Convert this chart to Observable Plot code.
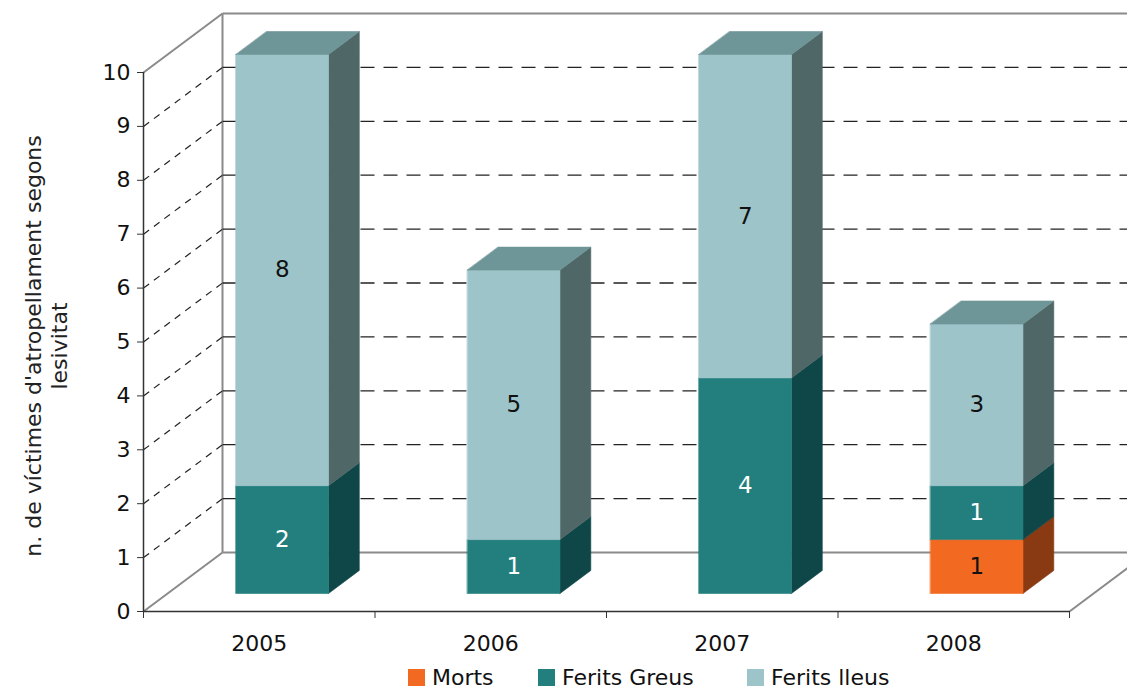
<!DOCTYPE html>
<html><head><meta charset="utf-8">
<script src="https://cdn.jsdelivr.net/npm/d3@7"></script>
<script src="https://cdn.jsdelivr.net/npm/@observablehq/plot@0.6"></script>
<style>
body{margin:0;background:#fff;font-family:"DejaVu Sans",Verdana,sans-serif;}
#wrap{position:relative;width:1127px;height:691px;overflow:hidden;background:#fff;}
#legend{position:absolute;left:0;top:664px;height:27px;width:1127px;font-size:22px;color:#111;}
.item{position:absolute;top:0;height:27px;display:flex;align-items:center;white-space:nowrap;}
.sw{width:17px;height:17px;margin-right:7px;}
</style></head><body>
<div id="wrap"><div id="chart"></div><div id="legend"></div></div>
<script>
// ---- data ----
const years = ["2005", "2006", "2007", "2008"];
const morts = [0, 0, 0, 1];
const feritsGreus = [2, 1, 4, 1];
const feritsLleus = [8, 5, 7, 3];
const seriesNames = ["Morts", "Ferits Greus", "Ferits lleus"];
const yTicks = [0, 1, 2, 3, 4, 5, 6, 7, 8, 9, 10];
const yMax = 10;
const axisTitle = ["n. de víctimes d'atropellament segons", "lesivitat"];

// ---- styles ----
const palette = {
  "Morts":        {front: "#F26A22", side: "#8A3A12", top: "#C0561C", label: "#111"},
  "Ferits Greus": {front: "#237F7D", side: "#0F4647", top: "#1A605F", label: "#fff"},
  "Ferits lleus": {front: "#9DC4C9", side: "#4F6767", top: "#6E9597", label: "#111"}
};
const legendLeft = [408, 538, 747];

// ---- geometry (oblique depth expressed in data units) ----
const W = 1127, H = 664;
const mL = 143, mR = 58, mT = 72, mB = 53;
const pxX = (W - mL - mR) / years.length;
const pxY = (H - mT - mB) / yMax;
const DX = 79 / pxX, DY = 59 / pxY;
const z0 = 0.305, z1 = 0.695;
const barL = 0.295, barR = 0.695;
const P = (x, y, z) => [x + z * DX, y + z * DY];
const nCat = years.length;

const marks = [];
const gray = "#8a8a8a";
const seg = (a, b) => ({x1: a[0], y1: a[1], x2: b[0], y2: b[1]});

// walls / floor outline
const wallEdges = [
  seg(P(0, yMax, 0), P(0, yMax, 1)),
  seg(P(0, 0, 1), P(0, yMax, 1)),
  seg(P(0, yMax, 1), P(nCat, yMax, 1)),
  seg(P(0, 0, 1), P(nCat, 0, 1)),
  seg(P(0, 0, 0), P(0, 0, 1)),
  seg(P(nCat, 0, 0), P(nCat, 0, 1))
];
marks.push(Plot.link(wallEdges, {x1: "x1", y1: "y1", x2: "x2", y2: "y2", stroke: gray, strokeWidth: 2}));

// gridlines
const gridK = yTicks.filter(k => k > 0 && k < yMax);
marks.push(Plot.link(gridK.map(k => seg(P(0, k, 0), P(0, k, 1))),
  {x1: "x1", y1: "y1", x2: "x2", y2: "y2", stroke: "#222", strokeWidth: 1.2, strokeDasharray: "7,6"}));
marks.push(Plot.link(gridK.map(k => seg(P(0, k, 1), P(nCat, k, 1))),
  {x1: "x1", y1: "y1", x2: "x2", y2: "y2", stroke: "#222", strokeWidth: 1.3, strokeDasharray: "14,9"}));

// bars
const series = [morts, feritsGreus, feritsLleus];
const labels = [];
years.forEach((yr, i) => {
  let base = 0;
  const xl = i + barL, xr = i + barR;
  let top = 0, topName = null;
  series.forEach((vals, s) => {
    const v = vals[i];
    const name = seriesNames[s];
    if (v <= 0) return;
    const y0 = Math.min(base, yMax), y1 = Math.min(base + v, yMax);
    base += v;
    if (y1 <= y0) return;
    const c = palette[name];
    const front = [P(xl, y0, z0), P(xr, y0, z0), P(xr, y1, z0), P(xl, y1, z0)];
    const side = [P(xr, y0, z0), P(xr, y0, z1), P(xr, y1, z1), P(xr, y1, z0)];
    marks.push(Plot.line(side, {x: d => d[0], y: d => d[1], fill: c.side, stroke: c.side, strokeWidth: 0.6, curve: "linear-closed"}));
    marks.push(Plot.line(front, {x: d => d[0], y: d => d[1], fill: c.front, stroke: c.front, strokeWidth: 0.6, curve: "linear-closed"}));
    const lp = P((xl + xr) / 2, (y0 + y1) / 2, z0);
    labels.push({x: lp[0], y: lp[1], text: String(v), color: c.label});
    top = y1; topName = name;
  });
  if (topName) {
    const c = palette[topName];
    const tf = [P(xl, top, z0), P(xr, top, z0), P(xr, top, z1), P(xl, top, z1)];
    marks.push(Plot.line(tf, {x: d => d[0], y: d => d[1], fill: c.top, stroke: c.top, strokeWidth: 0.6, curve: "linear-closed"}));
  }
});
marks.push(Plot.text(labels, {x: "x", y: "y", text: "text", fill: d => d.color, fontSize: 23}));

// front axes
marks.push(Plot.ruleX([0], {y1: 0, y2: yMax, stroke: "#333", strokeWidth: 1.5}));
marks.push(Plot.ruleY([0], {x1: 0, x2: nCat, stroke: "#333", strokeWidth: 1.5}));
marks.push(Plot.axisY({ticks: yTicks, tickSize: 6, tickPadding: 7, fontSize: 22, stroke: "#333", fill: "#111", label: null}));
marks.push(Plot.axisX({ticks: d3.range(0, nCat + 1), tickSize: 7, tickFormat: () => "", stroke: "#333", label: null}));
marks.push(Plot.text(years, {x: (d, i) => i + 0.5, y: 0, dy: 32, text: d => d, fontSize: 22, fill: "#111"}));
marks.push(Plot.text([axisTitle.join("\n")], {frameAnchor: "left", textAnchor: "middle", lineAnchor: "middle", dx: -98, dy: 4, rotate: -90, lineHeight: 1.18, fontSize: 22, fill: "#222"}));

const chart = Plot.plot({
  width: W, height: H,
  marginLeft: mL, marginRight: mR, marginTop: mT, marginBottom: mB,
  x: {domain: [0, nCat], axis: null},
  y: {domain: [0, yMax], axis: null},
  style: {fontFamily: "DejaVu Sans, Verdana, sans-serif", fontSize: "22px", background: "white", color: "#111"},
  marks
});
document.getElementById("chart").appendChild(chart);

// legend
const leg = document.getElementById("legend");
seriesNames.forEach((n, i) => {
  const it = document.createElement("div");
  it.className = "item";
  it.style.left = legendLeft[i] + "px";
  const sw = document.createElement("span");
  sw.className = "sw";
  sw.style.background = palette[n].front;
  const t = document.createElement("span");
  t.textContent = n;
  it.appendChild(sw); it.appendChild(t);
  leg.appendChild(it);
});
</script>
</body></html>
